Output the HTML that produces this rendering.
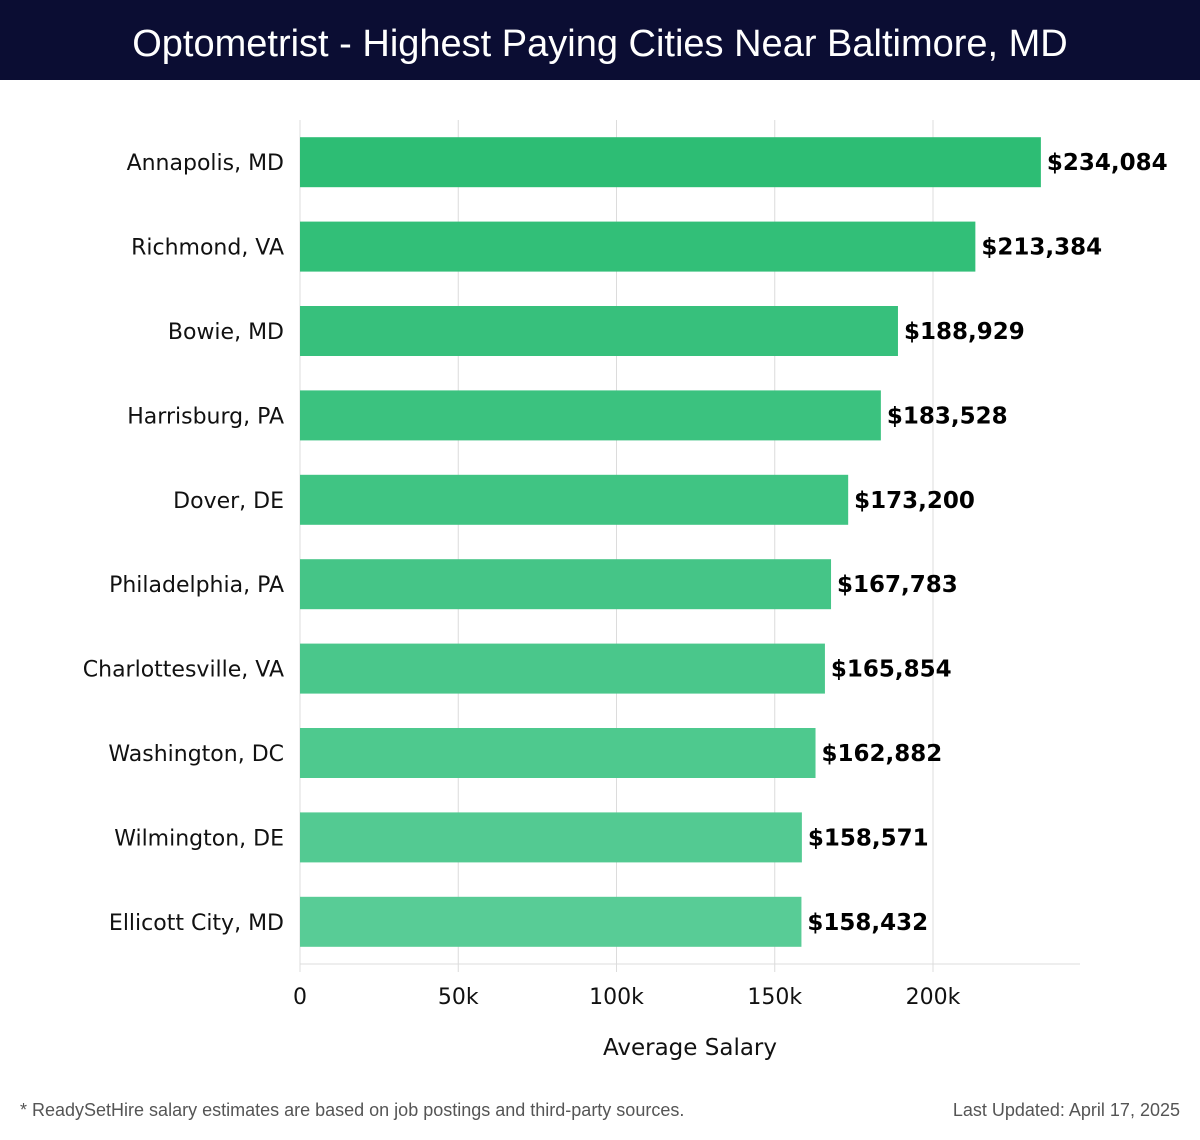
<!DOCTYPE html>
<html><head><meta charset="utf-8"><style>
body{margin:0;width:1200px;height:1140px;background:#fff;font-family:"DejaVu Sans","Liberation Sans",sans-serif;overflow:hidden}
#hdr{position:absolute;left:0;top:0;width:1200px;height:80px;background:#0b0d33;color:#fff;font-family:"Liberation Sans",sans-serif;font-size:38px;text-align:center;line-height:88px}
.foot{position:absolute;top:1100px;font-size:18px;color:#555;font-family:"Liberation Sans",sans-serif}
</style></head><body>
<div id="hdr">Optometrist - Highest Paying Cities Near Baltimore, MD</div>
<svg id="chart" width="1200" height="1140" style="position:absolute;left:0;top:0;pointer-events:none"></svg>
<div class="foot" style="left:20px">* ReadySetHire salary estimates are based on job postings and third-party sources.</div>
<div class="foot" style="right:20px">Last Updated: April 17, 2025</div>
<script>
const cities=["Annapolis, MD","Richmond, VA","Bowie, MD","Harrisburg, PA","Dover, DE","Philadelphia, PA","Charlottesville, VA","Washington, DC","Wilmington, DE","Ellicott City, MD"];
const salaries=[234084,213384,188929,183528,173200,167783,165854,162882,158571,158432];
const ticks=[0,50000,100000,150000,200000];
const tickLabels=["0","50k","100k","150k","200k"];
const NS="http://www.w3.org/2000/svg";
const svg=document.getElementById("chart");
const x0=300,pxPer=633/200000,top0=120,band=84.4,barH=50,plotRight=1080,plotBottom=964;
const xs=v=>x0+v*pxPer;
const yc=i=>top0+band*(i+0.5);
function mk(t,a){const e=document.createElementNS(NS,t);for(const k in a)e.setAttribute(k,a[k]);svg.appendChild(e);return e;}
ticks.forEach((t,i)=>{
  const g=mk("line",{x1:xs(t),x2:xs(t),y1:top0,y2:plotBottom+8,stroke:"#dcdcdc","stroke-width":1});
  
  
  const l=mk("text",{x:xs(t),y:plotBottom+40,"text-anchor":"middle","font-size":22,fill:"#111"});
  l.textContent=tickLabels[i];
  
  
});
const ax=mk("line",{x1:x0,x2:plotRight,y1:plotBottom,y2:plotBottom,stroke:"#dcdcdc","stroke-width":1});


const c1=[45,189,116],c2=[88,204,150];
salaries.forEach((v,i)=>{
  const f=i/(salaries.length-1);
  const c=c1.map((a,k)=>Math.round(a+(c2[k]-a)*f));
  const r=mk("rect",{x:x0,y:yc(i)-barH/2,width:xs(v)-x0,height:barH,fill:`rgb(${c})`});
  
  
  const vl=mk("text",{x:xs(v)+6,y:yc(i)+8,"font-size":23,"font-weight":"bold",fill:"#000"});
  vl.textContent="$"+v.toLocaleString("en-US");
  
  
  const cl=mk("text",{x:284,y:yc(i)+8,"text-anchor":"end","font-size":22,fill:"#111"});
  cl.textContent=cities[i];
  
  
});
const t=mk("text",{x:690,y:1055,"text-anchor":"middle","font-size":23,fill:"#111"});
t.textContent="Average Salary";


</script>
</body></html>
